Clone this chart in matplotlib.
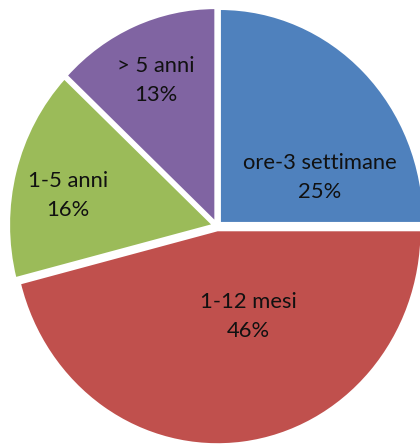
import matplotlib
matplotlib.use("Agg")
import matplotlib.pyplot as plt

# Duration categories and their shares (percent)
categories = ["ore-3 settimane", "1-12 mesi", "1-5 anni", "> 5 anni"]
shares = [25, 46, 16, 13]
colors = ["#4F81BD", "#C0504D", "#9BBB59", "#8064A2"]

# Label anchor points (data units, pie centre at origin)
label_xy = [(0.505, 0.225), (0.152, -0.423), (-0.730, 0.141), (-0.299, 0.681)]

fig = plt.figure(figsize=(4.2, 4.45), dpi=100)
ax = fig.add_axes([0, 0, 1, 1])

wedges, _ = ax.pie(
    shares,
    colors=colors,
    startangle=90,
    counterclock=False,
    explode=[0.02] * len(shares),
    wedgeprops=dict(edgecolor="white", linewidth=1.5),
    radius=1.0,
)

for name, val, (x, y) in zip(categories, shares, label_xy):
    ax.text(x, y, f"{name}\n{val}%", ha="center", va="center",
            fontsize=15.8, family=["Lato", "DejaVu Sans"], color="#111111",
            linespacing=1.55)

# Slightly wider than tall, clipped at right and bottom edges
rx, ry = 204.0, 214.0
cx, cy = 217.0, 219.0
ax.set_aspect("auto")
ax.set_xlim(-cx / rx, (420 - cx) / rx)
ax.set_ylim(-cy / ry, (445 - cy) / ry)
ax.axis("off")

fig.savefig("out.png", dpi=100, facecolor="white")
